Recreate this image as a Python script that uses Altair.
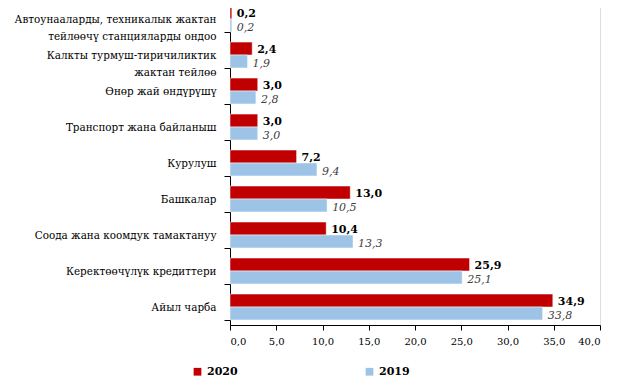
import altair as alt
import pandas as pd

categories = [
    "Автоунааларды,  техникалык жактан|тейлөөчү станцияларды  ондоо ",
    "Калкты турмуш-тиричиликтик|жактан тейлөө  ",
    "Өнөр жай өндүрүшү",
    "Транспорт жана байланыш",
    "Курулуш ",
    "Башкалар",
    "Соода жана коомдук тамактануу",
    "Керектөөчүлүк кредиттери",
    "Айыл  чарба",
]
values_2020 = [0.2, 2.4, 3.0, 3.0, 7.2, 13.0, 10.4, 25.9, 34.9]
values_2019 = [0.2, 1.9, 2.8, 3.0, 9.4, 10.5, 13.3, 25.1, 33.8]
series = ["2020", "2019"]
colors = ["#C00000", "#9DC3E6"]

rows = []
for c, a, b in zip(categories, values_2020, values_2019):
    rows.append({"cat": c, "year": "2020", "val": a, "lbl": f"{a:.1f}".replace(".", ",")})
    rows.append({"cat": c, "year": "2019", "val": b, "lbl": f"{b:.1f}".replace(".", ",")})
df = pd.DataFrame(rows)

font = "DejaVu Serif"

y_enc = alt.Y("cat:N", sort=categories, title=None,
              scale=alt.Scale(paddingInner=0.28, paddingOuter=0.14),
              axis=alt.Axis(labelExpr="split(datum.label, '|')", labelFont=font,
                            labelFontSize=10.4, labelColor="black", labelPadding=8,
                            tickBand="extent", tickSize=6, tickColor="black",
                            domainColor="black", labelLimit=400, labelLineHeight=17))
yoff = alt.YOffset("year:N", sort=series, scale=alt.Scale(paddingInner=0))

base = alt.Chart(df).encode(y=y_enc, yOffset=yoff)

bars = base.mark_bar(stroke="white", strokeWidth=0.5).encode(
    x=alt.X("val:Q", title=None, scale=alt.Scale(domain=[0, 40]),
            axis=alt.Axis(values=[0, 5, 10, 15, 20, 25, 30, 35, 40],
                          labelExpr="replace(format(datum.value, '.1f'), '.', ',')",
                          labelFont=font, labelFontSize=10, labelColor="black",
                          grid=False, tickColor="black", domainColor="black",
                          tickSize=5, labelPadding=6)),
    color=alt.Color("year:N", sort=series,
                    scale=alt.Scale(domain=series, range=colors),
                    legend=alt.Legend(title=None, orient="none", direction="horizontal",
                                      legendX=-38, legendY=365,
                                      symbolType="square", symbolSize=60,
                                      labelFont=font, labelFontSize=11,
                                      labelFontWeight="bold", labelColor="black",
                                      columnPadding=126, symbolStrokeWidth=0)),
)

t2020 = base.transform_filter(alt.datum.year == "2020").mark_text(
    align="left", baseline="middle", dx=5, dy=1, font=font, fontSize=11,
    fontWeight="bold", color="black"
).encode(x="val:Q", text="lbl:N")

t2019 = base.transform_filter(alt.datum.year == "2019").mark_text(
    align="left", baseline="middle", dx=5, dy=3, font=font, fontSize=11,
    fontStyle="italic", color="#404040"
).encode(x="val:Q", text="lbl:N")

chart = alt.layer(bars, t2020, t2019).properties(
    width=370, height=324,
    padding={"left": 2, "top": -12, "right": 5, "bottom": 0},
).configure_view(stroke=None).configure(background="white")

chart.save("out.html", embed_options={"renderer": "svg", "actions": False})
